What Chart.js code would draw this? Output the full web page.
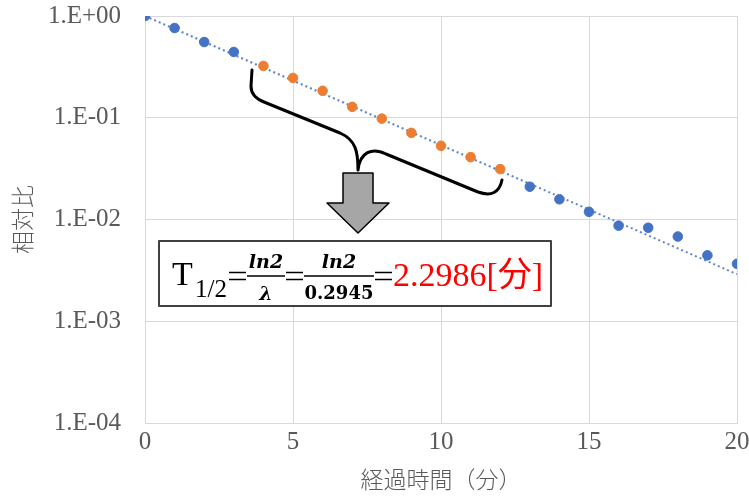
<!DOCTYPE html>
<html>
<head>
<meta charset="utf-8">
<script src="https://cdn.jsdelivr.net/npm/chart.js@4/dist/chart.umd.min.js"></script>
<style>
  html, body { margin: 0; padding: 0; background: #fff; }
  #wrap { width: 749px; height: 497px; }
</style>
</head>
<body>
<div id="wrap"><canvas id="chart" width="749" height="497"></canvas></div>
<script>
// 測定データ（相対比）
const xBlue = [0, 1, 2, 3, 13, 14, 15, 16, 17, 18, 19, 20];
const yBlue = [1.0, 0.762, 0.555, 0.443, 0.021, 0.0158, 0.0119, 0.0087, 0.0083, 0.0068, 0.00444, 0.00367];
const xOrange = [4, 5, 6, 7, 8, 9, 10, 11, 12];
const yOrange = [0.323, 0.246, 0.184, 0.128, 0.098, 0.071, 0.053, 0.041, 0.0313];
// 近似曲線の両端
const trendX = [0, 20];
const trendY = [1.0, 0.0029];

const yTickValues = [1e-4, 1e-3, 1e-2, 1e-1, 1];
const yTickLabels = ['1.E-04', '1.E-03', '1.E-02', '1.E-01', '1.E+00'];
const xTickValues = [0, 5, 10, 15, 20];

const toPoints = (xs, ys) => xs.map((x, i) => ({ x: x, y: ys[i] }));

const gray = '#595959';
const gridColor = '#d9d9d9';
const serif = "'Liberation Serif', 'DejaVu Serif', serif";
const mathSerif = "'DejaVu Serif', serif";
const cjk = "'Noto Sans CJK JP', sans-serif";

// 等号（幅広）
const drawEquals = (ctx, x0, x1, y) => {
    ctx.beginPath();
    ctx.moveTo(x0, y - 3.5);
    ctx.lineTo(x1, y - 3.5);
    ctx.moveTo(x0, y + 3.5);
    ctx.lineTo(x1, y + 3.5);
    ctx.stroke();
};

// 注釈（括弧・矢印・式）
const annotationPlugin = {
    id: 'annotation',
    afterDatasetsDraw(chart) {
        const ctx = chart.ctx;
        ctx.save();

        // 括弧
        ctx.strokeStyle = '#000';
        ctx.lineWidth = 3;
        ctx.lineCap = 'round';
        ctx.lineJoin = 'round';
        ctx.beginPath();
        ctx.moveTo(252, 70);
        ctx.lineTo(251, 86);
        ctx.quadraticCurveTo(251, 97, 264, 102);
        ctx.lineTo(340, 133);
        ctx.bezierCurveTo(356, 140, 358, 152, 358, 170);
        ctx.moveTo(358, 170);
        ctx.bezierCurveTo(360, 152, 372, 147, 386, 154);
        ctx.lineTo(478, 192);
        ctx.quadraticCurveTo(498, 199, 502, 180);
        ctx.stroke();

        // 矢印
        ctx.fillStyle = '#a6a6a6';
        ctx.strokeStyle = '#000';
        ctx.lineWidth = 1.5;
        ctx.lineCap = 'butt';
        ctx.beginPath();
        ctx.moveTo(343, 173);
        ctx.lineTo(373, 173);
        ctx.lineTo(373, 203);
        ctx.lineTo(389, 203);
        ctx.lineTo(358, 233);
        ctx.lineTo(327, 203);
        ctx.lineTo(343, 203);
        ctx.closePath();
        ctx.fill();
        ctx.stroke();

        // 式の枠
        ctx.fillStyle = '#fff';
        ctx.fillRect(159, 241, 392, 65);
        ctx.strokeStyle = '#404040';
        ctx.lineWidth = 2;
        ctx.strokeRect(159, 241, 392, 65);

        ctx.fillStyle = '#000';
        ctx.textBaseline = 'alphabetic';
        ctx.textAlign = 'left';
        ctx.font = '34px ' + serif;
        ctx.fillText('T', 172, 285);
        ctx.font = '25px ' + serif;
        ctx.fillText('1/2', 195, 297);

        ctx.strokeStyle = '#000';
        ctx.lineWidth = 1.6;
        drawEquals(ctx, 229, 246, 276);
        drawEquals(ctx, 286, 303, 276);
        drawEquals(ctx, 375, 392, 276);

        ctx.lineWidth = 1.5;
        ctx.beginPath();
        ctx.moveTo(247, 276);
        ctx.lineTo(285, 276);
        ctx.moveTo(304, 276);
        ctx.lineTo(374, 276);
        ctx.stroke();

        ctx.textAlign = 'center';
        ctx.font = 'italic bold 19px ' + mathSerif;
        ctx.fillText('ln2', 266, 268);
        ctx.fillText('ln2', 339, 268);
        ctx.fillText('λ', 266, 300);
        ctx.font = 'bold 18px ' + mathSerif;
        ctx.fillText('0.2945', 339, 299);

        ctx.textAlign = 'left';
        ctx.fillStyle = '#ff0000';
        ctx.font = '34px ' + serif + ", 'Noto Sans CJK JP'";
        ctx.fillText('2.2986[分]', 393, 286);

        ctx.restore();
    }
};

const relativeData = {
    datasets: [
        {
            label: '近似曲線',
            data: toPoints(trendX, trendY),
            showLine: true,
            borderColor: '#5b84c8',
            borderWidth: 2,
            borderDash: [2, 3],
            pointRadius: 0,
            order: 3,
        },
        {
            label: '相対比',
            data: toPoints(xBlue, yBlue),
            backgroundColor: '#4472c4',
            borderColor: '#4472c4',
            pointRadius: 4.8,
            order: 1,
        },
        {
            label: '相対比（範囲）',
            data: toPoints(xOrange, yOrange),
            backgroundColor: '#ed7d31',
            borderColor: '#ed7d31',
            pointRadius: 4.8,
            order: 2,
        },
    ]
};

const options = {
    responsive: false,
    animation: false,
    layout: { padding: { top: 16, right: 12, bottom: 4, left: 8 } },
    plugins: {
        legend: { display: false },
        tooltip: { enabled: false },
    },
    scales: {
        x: {
            type: 'linear',
            min: 0,
            max: 20,
            afterBuildTicks: (scale) => {
                scale.ticks = xTickValues.map(v => ({ value: v }));
            },
            afterFit: (scale) => {
                scale.height = 70;
                scale.paddingLeft = 0;
                scale.paddingRight = 0;
            },
            grid: { color: gridColor, drawTicks: false },
            border: { color: gridColor },
            ticks: { color: gray, font: { family: serif, size: 25 }, padding: 4 },
            title: {
                display: true,
                text: '経過時間（分）',
                color: gray,
                font: { family: cjk, size: 23, weight: '300' },
                padding: { top: 0, bottom: 0 },
            },
        },
        y: {
            type: 'logarithmic',
            min: 1e-4,
            max: 1,
            afterBuildTicks: (scale) => {
                scale.ticks = yTickValues.map(v => ({ value: v }));
            },
            afterFit: (scale) => {
                scale.width = 137;
                scale.paddingTop = 0;
                scale.paddingBottom = 0;
            },
            grid: { color: gridColor, drawTicks: false },
            border: { color: gridColor },
            ticks: {
                color: gray,
                font: { family: serif, size: 25 },
                padding: 24,
                callback: (value, index) => yTickLabels[index],
            },
            title: {
                display: true,
                text: '相対比',
                color: gray,
                font: { family: cjk, size: 23, weight: '300' },
                padding: { top: 0, bottom: 0 },
            },
        },
    },
};

document.addEventListener('DOMContentLoaded', () => {
    new Chart(document.getElementById('chart'), {
        type: 'scatter',
        data: relativeData,
        options: options,
        plugins: [annotationPlugin],
    });
});
</script>
</body>
</html>
